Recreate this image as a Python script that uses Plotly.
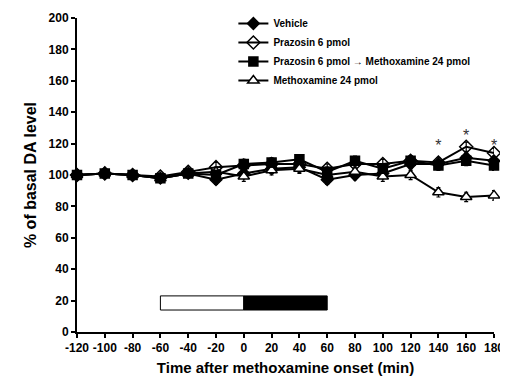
import plotly.graph_objects as go

time_min = [-120, -100, -80, -60, -40, -20, 0, 20, 40, 60, 80, 100, 120, 140, 160, 180]
vehicle = [100, 101, 100, 98, 101, 97, 101, 104, 105, 97, 100, 101, 107, 107, 111, 109]
prazosin = [100, 101, 100, 99, 102, 105, 106, 107, 107, 104, 107, 107, 109, 108, 118, 114]
praz_methox = [100, 101, 100, 98, 101, 100, 107, 108, 110, 102, 109, 104, 109, 106, 109, 106]
methoxamine = [100, 101, 100, 98, 101, 102, 99, 103, 104, 100, 102, 99, 100, 89, 86, 87]
err = [1, 1, 1, 1, 2, 3, 3, 3, 3, 3, 3, 3, 3, 3, 3, 3]

sig_times = [140, 160, 180]
sig_y = [118, 124, 118]

x_ticks = [-120, -100, -80, -60, -40, -20, 0, 20, 40, 60, 80, 100, 120, 140, 160, 180]
y_ticks = [0, 20, 40, 60, 80, 100, 120, 140, 160, 180, 200]

# treatment bars: prazosin period (open), methoxamine period (filled)
bar_periods = [(-60, 0, "white"), (0, 60, "black")]
bar_y = (14, 23)

FONT = "Arial, Liberation Sans, Helvetica, sans-serif"

fig = go.Figure()

series = [
    ("Vehicle", vehicle, "diamond", "black", 9),
    ("Prazosin 6 pmol", prazosin, "diamond-open", "black", 10),
    ("Prazosin 6 pmol \u2192 Methoxamine 24 pmol", praz_methox, "square", "black", 9),
    ("Methoxamine 24 pmol", methoxamine, "triangle-up", "white", 10),
]
order = [0, 1, 3, 2]
for i in order:
    name, vals, sym, fill, size = series[i]
    fig.add_trace(go.Scatter(
        x=time_min, y=vals, name=name, mode="lines+markers",
        line=dict(color="black", width=2),
        marker=dict(symbol=sym, size=size, color=fill if sym != "diamond-open" else "black",
                    line=dict(color="black", width=1.5)),
        error_y=dict(type="data", array=err, visible=True, color="black", thickness=1.2, width=2),
        cliponaxis=False, legendrank=i + 1,
    ))

fig.add_trace(go.Scatter(
    x=sig_times, y=sig_y, mode="text", text=["*"] * len(sig_times),
    textfont=dict(family=FONT, size=16, color="#333"), showlegend=False, cliponaxis=False,
))

for x0, x1, col in bar_periods:
    fig.add_shape(type="rect", x0=x0, x1=x1, y0=bar_y[0], y1=bar_y[1],
                  xref="x", yref="y", fillcolor=col, line=dict(color="black", width=1))

# the page body adds an 8px offset, so the figure is 8px smaller and margins shifted
fig.update_layout(
    template="none",
    width=500, height=373,
    margin=dict(l=69, r=14, t=1, b=49, pad=0),
    paper_bgcolor="white", plot_bgcolor="white",
    font=dict(family=FONT, color="black"),
    legend=dict(
        x=0.375, y=1.0, xanchor="left", yanchor="top",
        font=dict(family=FONT, size=10, color="black", weight="bold"),
        bgcolor="rgba(0,0,0,0)", tracegroupgap=0, itemwidth=30,
    ),
    showlegend=True,
)

fig.update_xaxes(
    range=[-120, 180], tickvals=x_ticks, ticktext=[str(v) for v in x_ticks],
    automargin=False,
    showgrid=False, zeroline=False, showline=True, linecolor="black", linewidth=2,
    ticks="outside", ticklen=4, tickwidth=2, tickcolor="black",
    tickfont=dict(family=FONT, size=12, color="black", weight="bold"),
    title=dict(text="Time after methoxamine onset (min)", standoff=8,
               font=dict(family=FONT, size=15, color="black", weight="bold")),
)
fig.update_yaxes(
    range=[0, 200], tickvals=y_ticks, domain=[0, 0.9721],
    automargin=False,
    showgrid=False, zeroline=False, showline=True, linecolor="black", linewidth=2,
    ticks="outside", ticklen=4, tickwidth=2, tickcolor="black",
    tickfont=dict(family=FONT, size=12, color="black", weight="bold"),
    title=dict(text="% of basal DA level", standoff=8,
               font=dict(family=FONT, size=16, color="black", weight="bold")),
)

fig.write_html("out.html")
